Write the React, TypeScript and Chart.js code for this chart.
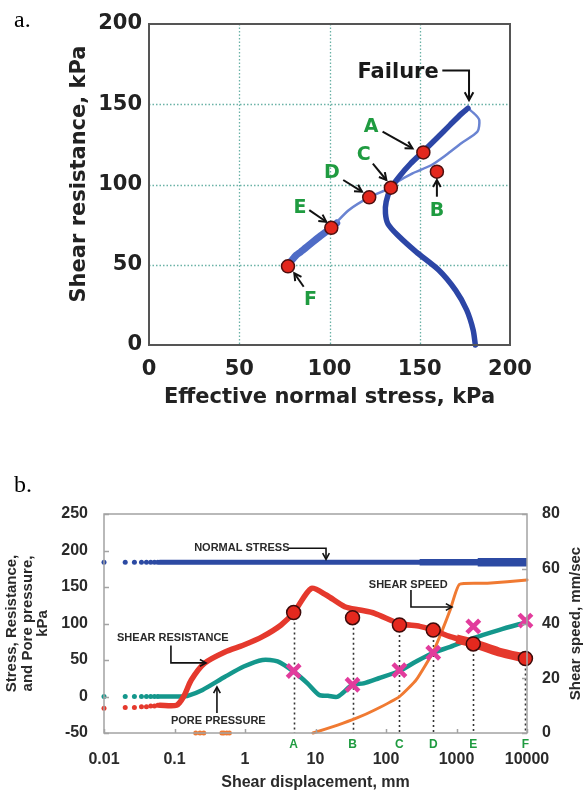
import React, { useEffect, useRef } from "react";
import { Chart, registerables } from "chart.js";

Chart.register(...registerables);

/* ================= Panel a : stress path ================= */
const normalTicksA = [0, 50, 100, 150, 200];
const shearTicksA = [0, 50, 100, 150, 200];
const gridValuesA = [50, 100, 150];

// thick loading branch (bottom -> failure)
const loadPathNormal = [180.8, 179.6, 176, 169.9, 160.5, 148, 137.7, 132.4, 131, 131.4, 134, 138.7, 144.9, 151.8, 159.4, 166.7, 173, 176.7];
const loadPathShear = [0, 9.3, 21.8, 34, 46.7, 58, 68.5, 75.4, 82, 89.3, 97.6, 105, 113, 120.4, 128.8, 137, 144, 147.5];
// thin post-failure branch (failure -> E)
const returnPathNormal = [176.7, 181, 183, 182, 173, 164.6, 156.3, 146, 137.7, 134, 122, 110.6, 101];
const returnPathShear = [147.5, 143.3, 140, 133, 125.7, 118.4, 112, 107, 101.7, 98, 92, 84, 73];
// scattered tail (E -> F)
const tailPathNormal = [104, 101, 95, 89.9, 84, 81.6, 78.5];
const tailPathShear = [76, 73, 68, 63.4, 58, 56, 52];

const stageNames = ["A", "B", "C", "D", "E", "F"];
const stageNormalStress = [152, 159.5, 134, 122, 101, 77];
const stageShearA = [120, 108, 98, 92, 73, 49];

/* ================= Panel b : time series ================= */
const dispTicks = [0.01, 0.1, 1, 10, 100, 1000, 10000];
const dispTickLabels = ["0.01", "0.1", "1", "10", "100", "1000", "10000"];
const stressTicks = [-50, 0, 50, 100, 150, 200, 250];
const speedTicks = [0, 20, 40, 60, 80];

const earlyDotsDisp = [0.01, 0.02, 0.027, 0.034, 0.04, 0.046, 0.052, 0.058];

const normalDotsY = [184, 184, 184, 184, 184, 184, 184, 184];
const normalLineDisp = [0.062, 0.3, 1, 10, 100, 1000, 10000];
const normalLineY = [184, 184, 184, 184, 184, 184, 184];
const normalBandDisp = [300, 1000, 10000];
const normalBandY = [184, 184, 184];
const normalWideDisp = [2000, 5000, 10000];
const normalWideY = [184, 184, 184];

const resistDotsY = [-16, -15, -15, -14, -14, -13, -13, -12];
const resistLineDisp = [0.062, 0.107, 0.135, 0.173, 0.265, 0.52, 0.96, 1.77, 3.25, 5, 8.7, 14.2, 26, 42.5, 69, 155, 302, 468, 815, 1730, 3980, 10000];
const resistLineY = [-12, -12, 0, 22.6, 45.4, 61, 70.5, 82, 98, 116, 148, 139, 123, 118.5, 114, 100, 96, 91, 82, 73, 61, 52];
const resistBandDisp = [1000, 1730, 3980, 10000];
const resistBandY = [79, 73, 61, 52];

const poreDotsY = [0, 0, 0, 0, 0, 0, 0, 0];
const poreLineDisp = [0.062, 0.12, 0.15, 0.25, 0.52, 0.96, 1.77, 2.9, 4.9, 7.7, 11.3, 15, 20.6, 33.5, 48, 79, 155, 268, 468, 815, 1730, 3980, 10000];
const poreLineY = [0, 0, 0.6, 9, 27, 41, 50, 48, 34, 18, 2, 1, -0.3, 16, 18, 25, 35, 48, 60, 68, 80, 91, 102];

const speedDotsDisp = [0.2, 0.23, 0.26, 0.47, 0.5, 0.55, 0.6];
const speedDotsY = [0, 0, 0, 0, 0, 0, 0];
const speedLineDisp = [9.2, 20.6, 38, 69, 155, 268, 468, 630, 815, 1100, 2750, 10000];
const speedLineY = [0, 2.9, 5.4, 8.4, 13.3, 19.4, 29.7, 37.6, 45, 54.3, 54.7, 55.9];

const stageDisp = [4.9, 33.5, 155, 468, 1730, 9500];
const stageResistance = [115, 108, 98, 91, 72, 52];
const stagePore = [35, 16, 36, 60, 96, 104];

/* ================= helpers ================= */
const pts = (xs: number[], ys: number[]) => xs.map((x, i) => ({ x, y: ys[i] }));

const FONT_A = "'DejaVu Sans', sans-serif";
const FONT_B = "'Liberation Sans', Arial, sans-serif";
const GREEN = "#1f9b40";

function arrow(ctx: CanvasRenderingContext2D, p: number[][], head = 8, width = 2) {
  ctx.save();
  ctx.strokeStyle = "#111";
  ctx.lineWidth = width;
  ctx.lineJoin = "miter";
  ctx.beginPath();
  ctx.moveTo(p[0][0], p[0][1]);
  for (let i = 1; i < p.length; i++) ctx.lineTo(p[i][0], p[i][1]);
  ctx.stroke();
  const [x1, y1] = p[p.length - 2];
  const [x2, y2] = p[p.length - 1];
  const a = Math.atan2(y2 - y1, x2 - x1);
  ctx.beginPath();
  ctx.moveTo(x2 - head * Math.cos(a - 0.5), y2 - head * Math.sin(a - 0.5));
  ctx.lineTo(x2, y2);
  ctx.lineTo(x2 - head * Math.cos(a + 0.5), y2 - head * Math.sin(a + 0.5));
  ctx.stroke();
  ctx.restore();
}

/* ---------- panel a annotations (data coordinates) ---------- */
const aLetterPos = [
  [123, 136],
  [159.5, 83.5],
  [119, 118.4],
  [101.3, 107],
  [83.7, 85.2],
  [89.5, 28],
];
const aArrowPaths = [
  [[129.4, 133], [146, 122.5]],
  [[159.5, 92.4], [159.5, 102.8]],
  [[124, 113], [131.5, 102.8]],
  [[107.6, 102.8], [118, 95.5]],
  [[88.8, 84], [98.2, 76.8]],
  [[85.7, 36.3], [80.5, 44.7]],
];

const decorA = {
  id: "decorA",
  beforeDatasetsDraw(chart: any) {
    const { ctx, chartArea: c, scales } = chart;
    const sx = scales.x, sy = scales.y;
    ctx.save();
    ctx.strokeStyle = "rgba(80,165,150,0.85)";
    ctx.lineWidth = 1.3;
    ctx.setLineDash([1.5, 2]);
    gridValuesA.forEach((v) => {
      const px = Math.round(sx.getPixelForValue(v)) + 0.5;
      ctx.beginPath(); ctx.moveTo(px, c.top); ctx.lineTo(px, c.bottom); ctx.stroke();
      const py = Math.round(sy.getPixelForValue(v)) + 0.5;
      ctx.beginPath(); ctx.moveTo(c.left, py); ctx.lineTo(c.right, py); ctx.stroke();
    });
    ctx.restore();
  },
  afterDatasetsDraw(chart: any) {
    const { ctx, chartArea: c, scales } = chart;
    const sx = scales.x, sy = scales.y;
    const P = (x: number, y: number) => [sx.getPixelForValue(x), sy.getPixelForValue(y)];
    ctx.save();
    ctx.strokeStyle = "#555";
    ctx.lineWidth = 2;
    ctx.strokeRect(c.left, c.top, c.right - c.left, c.bottom - c.top);
    aArrowPaths.forEach((path) => arrow(ctx, path.map(([x, y]) => P(x, y)), 8, 2));
    arrow(ctx, [P(162.5, 171), P(177.3, 171), P(177.3, 152.6)], 9, 2);
    ctx.fillStyle = GREEN;
    ctx.font = `bold 19px ${FONT_A}`;
    ctx.textAlign = "center";
    ctx.textBaseline = "middle";
    stageNames.forEach((n, i) => {
      const [x, y] = P(aLetterPos[i][0], aLetterPos[i][1]);
      ctx.fillText(n, x, y);
    });
    ctx.fillStyle = "#1a1a1a";
    ctx.font = `bold 21px ${FONT_A}`;
    ctx.textAlign = "right";
    const [fx, fy] = P(160.5, 170);
    ctx.fillText("Failure", fx, fy);
    ctx.fillStyle = "#222";
    ctx.font = `bold 21px ${FONT_A}`;
    ctx.textAlign = "center";
    ctx.fillText("Effective normal stress, kPa", (c.left + c.right) / 2, 398);
    ctx.save();
    ctx.translate(80, 174);
    ctx.rotate(-Math.PI / 2);
    ctx.fillText("Shear resistance, kPa", 0, 0);
    ctx.restore();
    ctx.fillStyle = "#000";
    ctx.font = "24px 'Liberation Serif', serif";
    ctx.textAlign = "left";
    ctx.textBaseline = "alphabetic";
    ctx.fillText("a.", 14, 27);
    ctx.restore();
  },
};

/* ---------- panel b annotations (data coordinates, left axis) ---------- */
const bTexts = [
  { t: "NORMAL STRESS", x: 0.19, y: 203 },
  { t: "SHEAR SPEED", x: 57, y: 152.7 },
  { t: "SHEAR RESISTANCE", x: 0.0153, y: 80 },
  { t: "PORE PRESSURE", x: 0.089, y: -33.6 },
];
const bArrows = [
  [[4.2, 203], [14.1, 203], [14.1, 188]],
  [[226, 146], [226, 122.6], [863, 122.6]],
  [[0.089, 70], [0.089, 46], [0.28, 46]],
  [[0.4, -22.6], [0.4, 13]],
];

const decorB = {
  id: "decorB",
  beforeDatasetsDraw(chart: any) {
    const { ctx, chartArea: c, scales } = chart;
    const sx = scales.x, sy = scales.y;
    ctx.save();
    ctx.strokeStyle = "#333";
    ctx.lineWidth = 1.6;
    ctx.setLineDash([2, 3]);
    stageDisp.forEach((d, i) => {
      const px = Math.round(sx.getPixelForValue(d)) + 0.5;
      ctx.beginPath();
      ctx.moveTo(px, sy.getPixelForValue(stageResistance[i]));
      ctx.lineTo(px, c.bottom);
      ctx.stroke();
    });
    ctx.restore();
  },
  afterDatasetsDraw(chart: any) {
    const { ctx, chartArea: c, scales } = chart;
    const sx = scales.x, sy = scales.y, sy2 = scales.y2;
    const P = (x: number, y: number) => [sx.getPixelForValue(x), sy.getPixelForValue(y)];
    ctx.save();
    ctx.strokeStyle = "#a3a3a3";
    ctx.lineWidth = 1.5;
    ctx.strokeRect(c.left, c.top, c.right - c.left, c.bottom - c.top);
    ctx.beginPath();
    stressTicks.forEach((v) => {
      const y = Math.round(sy.getPixelForValue(v)) + 0.5;
      ctx.moveTo(c.left, y); ctx.lineTo(c.left + 5, y);
    });
    speedTicks.forEach((v) => {
      const y = Math.round(sy2.getPixelForValue(v)) + 0.5;
      ctx.moveTo(c.right, y); ctx.lineTo(c.right - 5, y);
    });
    dispTicks.forEach((v) => {
      const x = Math.round(sx.getPixelForValue(v)) + 0.5;
      ctx.moveTo(x, c.bottom); ctx.lineTo(x, c.bottom - 4);
    });
    ctx.stroke();
    bArrows.forEach((path) => arrow(ctx, path.map(([x, y]) => P(x, y)), 7, 1.6));
    ctx.fillStyle = "#2a2a2a";
    ctx.font = `bold 11px ${FONT_B}`;
    ctx.textAlign = "left";
    ctx.textBaseline = "middle";
    bTexts.forEach((t) => {
      const [x, y] = P(t.x, t.y);
      ctx.fillText(t.t, x, y);
    });
    ctx.fillStyle = GREEN;
    ctx.font = `bold 12px ${FONT_B}`;
    ctx.textAlign = "center";
    stageNames.forEach((n, i) => {
      ctx.fillText(n, sx.getPixelForValue(stageDisp[i]), c.bottom + 12);
    });
    ctx.fillStyle = "#2a2a2a";
    ctx.font = `bold 16px ${FONT_B}`;
    ctx.fillText("Shear displacement, mm", (c.left + c.right) / 2, 353);
    const cy = (c.top + c.bottom) / 2;
    ctx.font = `bold 15px ${FONT_B}`;
    const leftLines = ["Stress, Resistance,", "and Pore pressure,", "kPa"];
    const leftX = [12, 28, 43];
    leftLines.forEach((l, i) => {
      ctx.save();
      ctx.translate(leftX[i], cy);
      ctx.rotate(-Math.PI / 2);
      ctx.fillText(l, 0, 0);
      ctx.restore();
    });
    ctx.save();
    ctx.translate(576, cy);
    ctx.rotate(-Math.PI / 2);
    ctx.fillText("Shear speed, mm/sec", 0, 0);
    ctx.restore();
    ctx.fillStyle = "#000";
    ctx.font = "24px 'Liberation Serif', serif";
    ctx.textAlign = "left";
    ctx.textBaseline = "alphabetic";
    ctx.fillText("b.", 14, 62);
    ctx.restore();
  },
};

const lineDs = (data: any, color: string, width: number, extra: any = {}) => ({
  data,
  showLine: true,
  borderColor: color,
  backgroundColor: color,
  borderWidth: width,
  pointRadius: 0,
  tension: 0.25,
  borderCapStyle: "round",
  borderJoinStyle: "round",
  ...extra,
});
const dotDs = (data: any, color: string, r: number, extra: any = {}) => ({
  data,
  showLine: false,
  pointRadius: r,
  pointBackgroundColor: color,
  pointBorderWidth: 0,
  clip: false,
  ...extra,
});

const tickFontA = { family: FONT_A, size: 21, weight: "bold" as const };
const tickFontB = { family: FONT_B, size: 16, weight: "bold" as const };
const noGrid = { display: false, drawTicks: false };

function makeConfigA(): any {
  return {
    type: "scatter",
    data: {
      datasets: [
        {
          data: pts(stageNormalStress, stageShearA),
          showLine: false,
          pointRadius: 6.5,
          pointBackgroundColor: "#e3271d",
          pointBorderColor: "#4d0f0f",
          pointBorderWidth: 1.5,
          clip: false,
        },
        lineDs(pts(loadPathNormal, loadPathShear), "#2c46a6", 5.5, { clip: false }),
        lineDs(pts(returnPathNormal, returnPathShear), "#6a84d2", 2.5),
        lineDs(pts(tailPathNormal, tailPathShear), "#4f6cc6", 7),
      ],
    },
    options: {
      responsive: false,
      animation: false,
      devicePixelRatio: 1,
      events: [],
      layout: { padding: { left: 0, right: 78, top: 24, bottom: 0 } },
      plugins: { legend: { display: false }, tooltip: { enabled: false } },
      scales: {
        x: {
          type: "linear",
          min: 0,
          max: 200,
          grid: noGrid,
          border: { display: false },
          afterBuildTicks: (s: any) => { s.ticks = normalTicksA.map((v) => ({ value: v })); },
          afterFit: (s: any) => { s.height = 85; },
          ticks: { padding: 12, color: "#222", font: tickFontA, autoSkip: false, maxRotation: 0 },
        },
        y: {
          type: "linear",
          min: 0,
          max: 200,
          grid: noGrid,
          border: { display: false },
          afterBuildTicks: (s: any) => { s.ticks = shearTicksA.map((v) => ({ value: v })); },
          afterFit: (s: any) => { s.width = 149; },
          ticks: { padding: 7, color: "#222", font: tickFontA, autoSkip: false },
        },
      },
    },
    plugins: [decorA],
  };
}

function makeConfigB(): any {
  return {
    type: "scatter",
    data: {
      datasets: [
        {
          data: pts(stageDisp, stagePore),
          showLine: false,
          pointStyle: "crossRot",
          pointRadius: 9,
          pointBorderColor: "#e23c9c",
          pointBorderWidth: 4.5,
          clip: false,
        },
        {
          data: pts(stageDisp, stageResistance),
          showLine: false,
          pointRadius: 7,
          pointBackgroundColor: "#e5281e",
          pointBorderColor: "#3d0b0b",
          pointBorderWidth: 1.5,
          clip: false,
        },
        lineDs(pts(resistBandDisp, resistBandY), "#e5392d", 9, { borderCapStyle: "butt" }),
        lineDs(pts(resistLineDisp, resistLineY), "#e5392d", 5.5),
        dotDs(pts(earlyDotsDisp, resistDotsY), "#e5392d", 2.5),
        lineDs(pts(poreLineDisp, poreLineY), "#14978c", 4.5),
        dotDs(pts(earlyDotsDisp, poreDotsY), "#14978c", 2.5),
        lineDs(pts(speedLineDisp, speedLineY), "#f07a32", 3, { yAxisID: "y2", tension: 0.15, clip: false }),
        dotDs(pts(speedDotsDisp, speedDotsY), "#f07a32", 2.5, { yAxisID: "y2" }),
        lineDs(pts(normalWideDisp, normalWideY), "#2c4aa3", 8.5, { borderCapStyle: "butt" }),
        lineDs(pts(normalBandDisp, normalBandY), "#2c4aa3", 6.5, { borderCapStyle: "butt" }),
        lineDs(pts(normalLineDisp, normalLineY), "#2c4aa3", 5),
        dotDs(pts(earlyDotsDisp, normalDotsY), "#2c4aa3", 2.5),
      ],
    },
    options: {
      responsive: false,
      animation: false,
      devicePixelRatio: 1,
      events: [],
      layout: { padding: { left: 0, right: 0, top: 84, bottom: 0 } },
      plugins: { legend: { display: false }, tooltip: { enabled: false } },
      scales: {
        x: {
          type: "logarithmic",
          min: 0.01,
          max: 10000,
          grid: noGrid,
          border: { display: false },
          afterBuildTicks: (s: any) => { s.ticks = dispTicks.map((v) => ({ value: v })); },
          afterFit: (s: any) => { s.height = 62; },
          ticks: {
            padding: 17,
            color: "#2a2a2a",
            font: tickFontB,
            autoSkip: false,
            maxRotation: 0,
            callback: (_v: any, i: number) => dispTickLabels[i],
          },
        },
        y: {
          type: "linear",
          position: "left",
          min: -50,
          max: 250,
          grid: noGrid,
          border: { display: false },
          afterBuildTicks: (s: any) => { s.ticks = stressTicks.map((v) => ({ value: v })); },
          afterFit: (s: any) => { s.width = 104; },
          ticks: { padding: 16, color: "#2a2a2a", font: tickFontB, autoSkip: false },
        },
        y2: {
          type: "linear",
          position: "right",
          min: 0,
          max: 80,
          grid: noGrid,
          border: { display: false },
          afterBuildTicks: (s: any) => { s.ticks = speedTicks.map((v) => ({ value: v })); },
          afterFit: (s: any) => { s.width = 61; },
          ticks: { padding: 15, color: "#2a2a2a", font: tickFontB, autoSkip: false },
        },
      },
    },
    plugins: [decorB],
  };
}

export default function App() {
  const refA = useRef<HTMLCanvasElement>(null);
  const refB = useRef<HTMLCanvasElement>(null);
  useEffect(() => {
    const ca = new Chart(refA.current as HTMLCanvasElement, makeConfigA());
    const cb = new Chart(refB.current as HTMLCanvasElement, makeConfigB());
    return () => {
      ca.destroy();
      cb.destroy();
    };
  }, []);
  return (
    <div style={{ position: "absolute", left: 0, top: 0, width: 588, height: 795, background: "#fff" }}>
      <canvas ref={refA} width={588} height={430} style={{ position: "absolute", left: 0, top: 0, width: 588, height: 430 }} />
      <canvas ref={refB} width={588} height={365} style={{ position: "absolute", left: 0, top: 430, width: 588, height: 365 }} />
    </div>
  );
}
